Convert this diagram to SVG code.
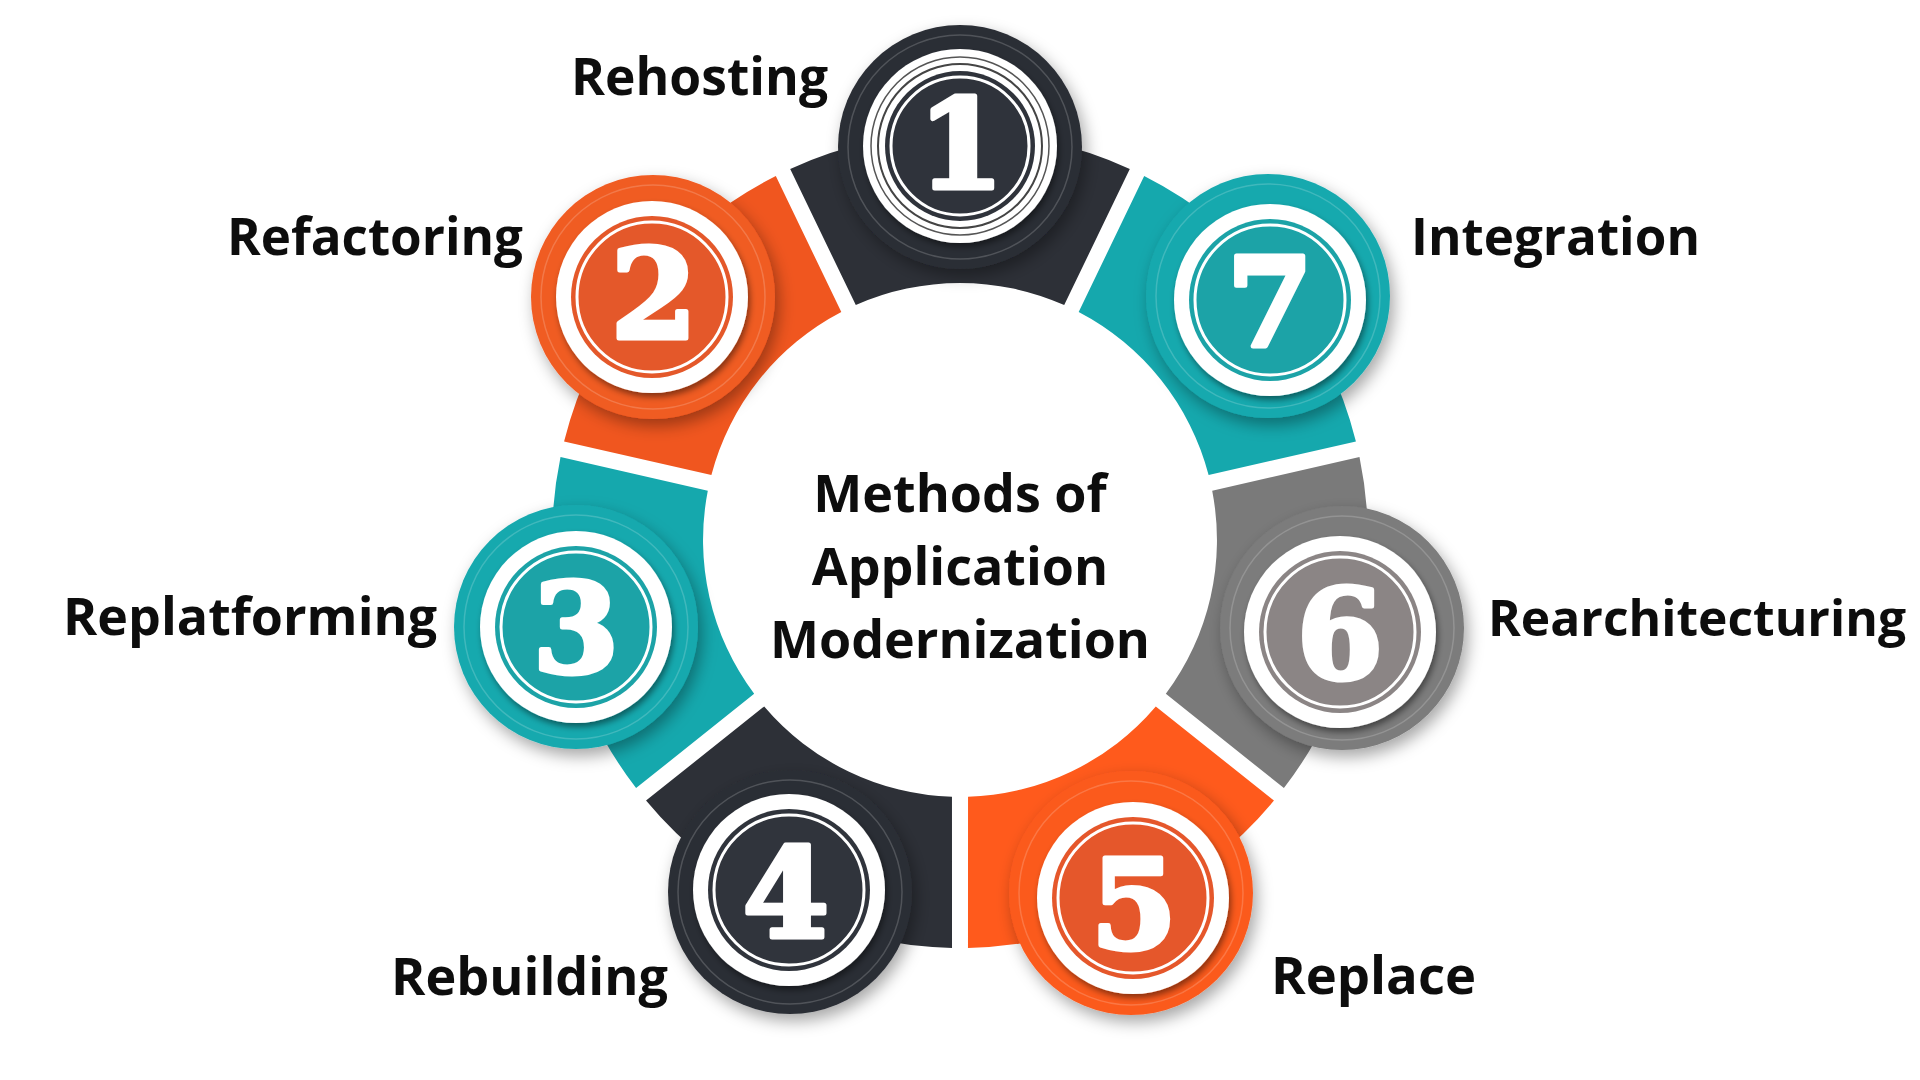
<svg xmlns="http://www.w3.org/2000/svg" xmlns:xlink="http://www.w3.org/1999/xlink" width="1920" height="1080" viewBox="0 0 1920 1080">
<style>
.lbl{font-family:"Open Sans","Liberation Sans",sans-serif;font-weight:700;font-size:52px;fill:#0d0d0d}
.ctr{font-family:"Open Sans","Liberation Sans",sans-serif;font-weight:700;font-size:52px;fill:#0d0d0d;text-anchor:middle}
.num{font-family:"DejaVu Serif","Liberation Serif",serif;font-weight:700;font-size:124px;fill:#fff;text-anchor:middle;stroke:#fff;stroke-width:5;stroke-linejoin:round}
.ring{fill:#fff;filter:url(#sh2)}
.thin{fill:none;stroke:#fff;stroke-width:3}
.rim{fill:none;stroke:#fff;stroke-opacity:0.18;stroke-width:1.5}
.base{filter:url(#sh)}
</style>
<defs>
<filter id="sh" x="-30%" y="-30%" width="160%" height="160%"><feDropShadow dx="4" dy="7" stdDeviation="8" flood-color="#000" flood-opacity="0.35"/></filter>
<filter id="sh2" x="-20%" y="-20%" width="140%" height="140%"><feDropShadow dx="2" dy="4" stdDeviation="3" flood-color="#000" flood-opacity="0.45"/></filter>
<path id="seg" d="M 790.2 169.0 A 408 408 0 0 1 1129.8 169.0 L 1064.2 305.1 A 257 257 0 0 0 855.8 305.1 Z"/>
</defs>
<rect width="1920" height="1080" fill="#fff"/>

<g id="ring-segments">
<use xlink:href="#seg" href="#seg" fill="#2d3037"/>
<use xlink:href="#seg" href="#seg" fill="#f0561f" transform="rotate(-51.4286 960 540)"/>
<use xlink:href="#seg" href="#seg" fill="#15a8ad" transform="rotate(-102.8571 960 540)"/>
<use xlink:href="#seg" href="#seg" fill="#2d3037" transform="rotate(-154.2857 960 540)"/>
<use xlink:href="#seg" href="#seg" fill="#ff5a1c" transform="rotate(154.2857 960 540)"/>
<use xlink:href="#seg" href="#seg" fill="#7a7a7a" transform="rotate(102.8571 960 540)"/>
<use xlink:href="#seg" href="#seg" fill="#15a8ad" transform="rotate(51.4286 960 540)"/>
</g>

<g id="node-1">
<circle class="base" cx="960" cy="147" r="122" fill="#2b2e35"/>
<circle class="rim" cx="960" cy="147" r="112"/>
<circle class="ring" cx="960" cy="146" r="97"/>
<circle cx="960" cy="146" r="89" fill="none" stroke="#555" stroke-width="1.5"/>
<circle cx="960" cy="146" r="82" fill="none" stroke="#444" stroke-width="2"/>
<circle cx="960" cy="146" r="75" fill="#2f333b"/>
<circle class="thin" cx="960" cy="146" r="69"/>
<text class="num" x="961" y="188">1</text>
<text class="lbl" x="571" y="95" textLength="257" lengthAdjust="spacingAndGlyphs">Rehosting</text>
</g>

<g id="node-2">
<circle class="base" cx="653" cy="297" r="122" fill="#f05b24"/>
<circle class="rim" cx="653" cy="297" r="112"/>
<circle class="ring" cx="652" cy="297" r="96"/>
<circle cx="652" cy="297" r="81" fill="#e4582a"/>
<circle class="thin" cx="652" cy="297" r="75"/>
<text class="num" x="654" y="338">2</text>
<text class="lbl" x="227" y="255" textLength="296" lengthAdjust="spacingAndGlyphs">Refactoring</text>
</g>

<g id="node-3">
<circle class="base" cx="576" cy="627" r="122" fill="#18a9ae"/>
<circle class="rim" cx="576" cy="627" r="112"/>
<circle class="ring" cx="576" cy="627" r="96"/>
<circle cx="576" cy="627" r="81" fill="#1ca3a7"/>
<circle class="thin" cx="576" cy="627" r="75"/>
<text class="num" x="576" y="672">3</text>
<text class="lbl" x="63" y="635" textLength="374" lengthAdjust="spacingAndGlyphs">Replatforming</text>
</g>

<g id="node-4">
<circle class="base" cx="790" cy="892" r="122" fill="#2b2e35"/>
<circle class="rim" cx="790" cy="892" r="112"/>
<circle class="ring" cx="789" cy="890" r="96"/>
<circle cx="789" cy="890" r="81" fill="#30343c"/>
<circle class="thin" cx="789" cy="890" r="75"/>
<text class="num" x="786" y="937">4</text>
<text class="lbl" x="391" y="995" textLength="277" lengthAdjust="spacingAndGlyphs">Rebuilding</text>
</g>

<g id="node-5">
<circle class="base" cx="1131" cy="893" r="122" fill="#fb5a1f"/>
<circle class="rim" cx="1131" cy="893" r="112"/>
<circle class="ring" cx="1133" cy="898" r="96"/>
<circle cx="1133" cy="898" r="81" fill="#e5572b"/>
<circle class="thin" cx="1133" cy="898" r="75"/>
<text class="num" x="1134" y="948">5</text>
<text class="lbl" x="1271" y="994" textLength="205" lengthAdjust="spacingAndGlyphs">Replace</text>
</g>

<g id="node-6">
<circle class="base" cx="1342" cy="628" r="122" fill="#7b7b7b"/>
<circle class="rim" cx="1342" cy="628" r="112"/>
<circle class="ring" cx="1340" cy="632" r="96"/>
<circle cx="1340" cy="632" r="81" fill="#8b8585"/>
<circle class="thin" cx="1340" cy="632" r="75"/>
<text class="num" x="1340" y="678">6</text>
<text class="lbl" x="1488" y="636" style="font-size:50px" textLength="418" lengthAdjust="spacingAndGlyphs">Rearchitecturing</text>
</g>

<g id="node-7">
<circle class="base" cx="1268" cy="296" r="122" fill="#18a9ae"/>
<circle class="rim" cx="1268" cy="296" r="112"/>
<circle class="ring" cx="1270" cy="300" r="96"/>
<circle cx="1270" cy="300" r="81" fill="#1ca3a7"/>
<circle class="thin" cx="1270" cy="300" r="75"/>
<text class="num" x="1270" y="346">7</text>
<text class="lbl" x="1411" y="255" textLength="289" lengthAdjust="spacingAndGlyphs">Integration</text>
</g>

<g id="center">
<text class="ctr" x="960" y="512">Methods of</text>
<text class="ctr" x="960" y="585">Application</text>
<text class="ctr" x="960" y="658">Modernization</text>
</g>
</svg>
